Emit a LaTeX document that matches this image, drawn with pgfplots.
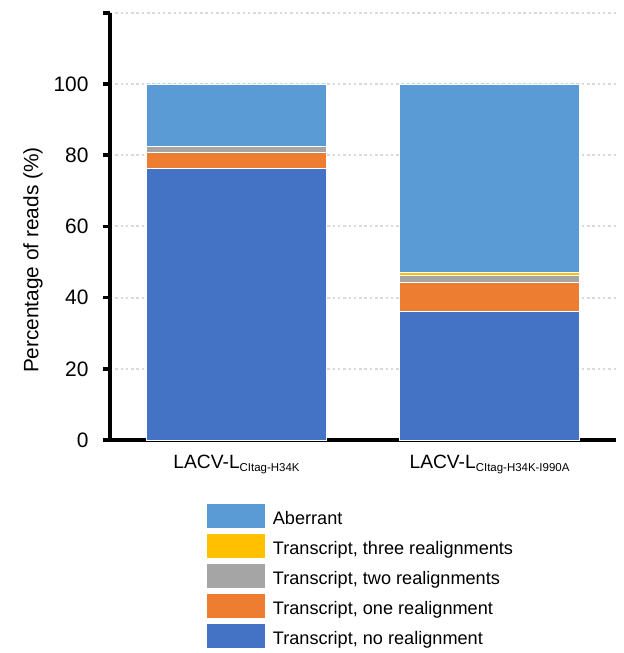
\documentclass[border=0pt]{standalone}
\usepackage{fontspec}
\setmainfont{Liberation Sans}
\usepackage{pgfplots}
\pgfplotsset{compat=1.18}
\definecolor{cNo}{HTML}{4472C4}
\definecolor{cOne}{HTML}{ED7D31}
\definecolor{cTwo}{HTML}{A5A5A5}
\definecolor{cThree}{HTML}{FFC000}
\definecolor{cAb}{HTML}{5B9BD5}
\definecolor{cGrid}{HTML}{D9D9D9}
\newcommand\sub[1]{\raisebox{-3bp}{\fontsize{11.5}{11.5}\selectfont #1}}
\begin{document}
\begin{tikzpicture}
\path[use as bounding box] (-110bp,-213bp) rectangle (514bp,440bp);
\begin{axis}[
  at={(0,0)}, anchor=south west,
  scale only axis, width=506bp, height=427.2bp,
  ybar stacked, bar width=180bp,
  xmin=-0.5, xmax=1.5, ymin=0, ymax=120,
  xtick={0,1},
  xticklabels={LACV-L\sub{CItag-H34K}, LACV-L\sub{CItag-H34K-I990A}},
  ytick={0,20,40,60,80,100,120},
  yticklabels={0,20,40,60,80,100,},
  axis x line=bottom, axis y line=left,
  axis line style={-, line width=4.5bp, black},
  x axis line style={shorten <=-7bp},
  major x tick style={draw=none},
  major y tick style={line width=3.5bp, black},
  tick align=outside, major tick length=7bp,
  ymajorgrids,
  major grid style={cGrid, line width=2bp, dash pattern=on 2.5bp off 2.8bp},
  /pgf/number format/assume math mode=true,
  yticklabel style={font=\fontsize{21}{21}\selectfont, xshift=-11bp},
  xticklabel style={font=\fontsize{19.3}{19.3}\selectfont, yshift=-5bp},
  ylabel={Percentage of reads (\%)},
  ylabel style={font=\fontsize{20.9}{20.9}\selectfont, at={(axis description cs:-0.152,0.421)}, anchor=center, rotate=0},
  every axis plot/.append style={draw=white, line width=0.75bp},
  legend image code/.code={\fill[#1,draw=none] (0bp,-9.4bp) rectangle (58bp,14.6bp);},
  reverse legend,
  legend cell align=left,
  legend style={at={(axis description cs:0.1917,-0.1498)}, anchor=north west,
    draw=none, fill=none, inner sep=0pt, row sep=6bp,
    nodes={inner sep=0pt},
    font=\fontsize{18.2}{18.2}\selectfont,
    /tikz/every odd column/.append style={column sep=7.7bp}},
]
\addplot[fill=cNo] coordinates {(0,76.2) (1,36.0)};
\addlegendentry{Transcript, no realignment}
\addplot[fill=cOne] coordinates {(0,4.6) (1,8.3)};
\addlegendentry{Transcript, one realignment}
\addplot[fill=cTwo] coordinates {(0,1.6) (1,2.0)};
\addlegendentry{Transcript, two realignments}
\addplot[fill=cThree] coordinates {(0,0) (1,0.9)};
\addlegendentry{Transcript, three realignments}
\addplot[fill=cAb] coordinates {(0,17.6) (1,52.8)};
\addlegendentry{Aberrant}
\end{axis}
\end{tikzpicture}
\end{document}
